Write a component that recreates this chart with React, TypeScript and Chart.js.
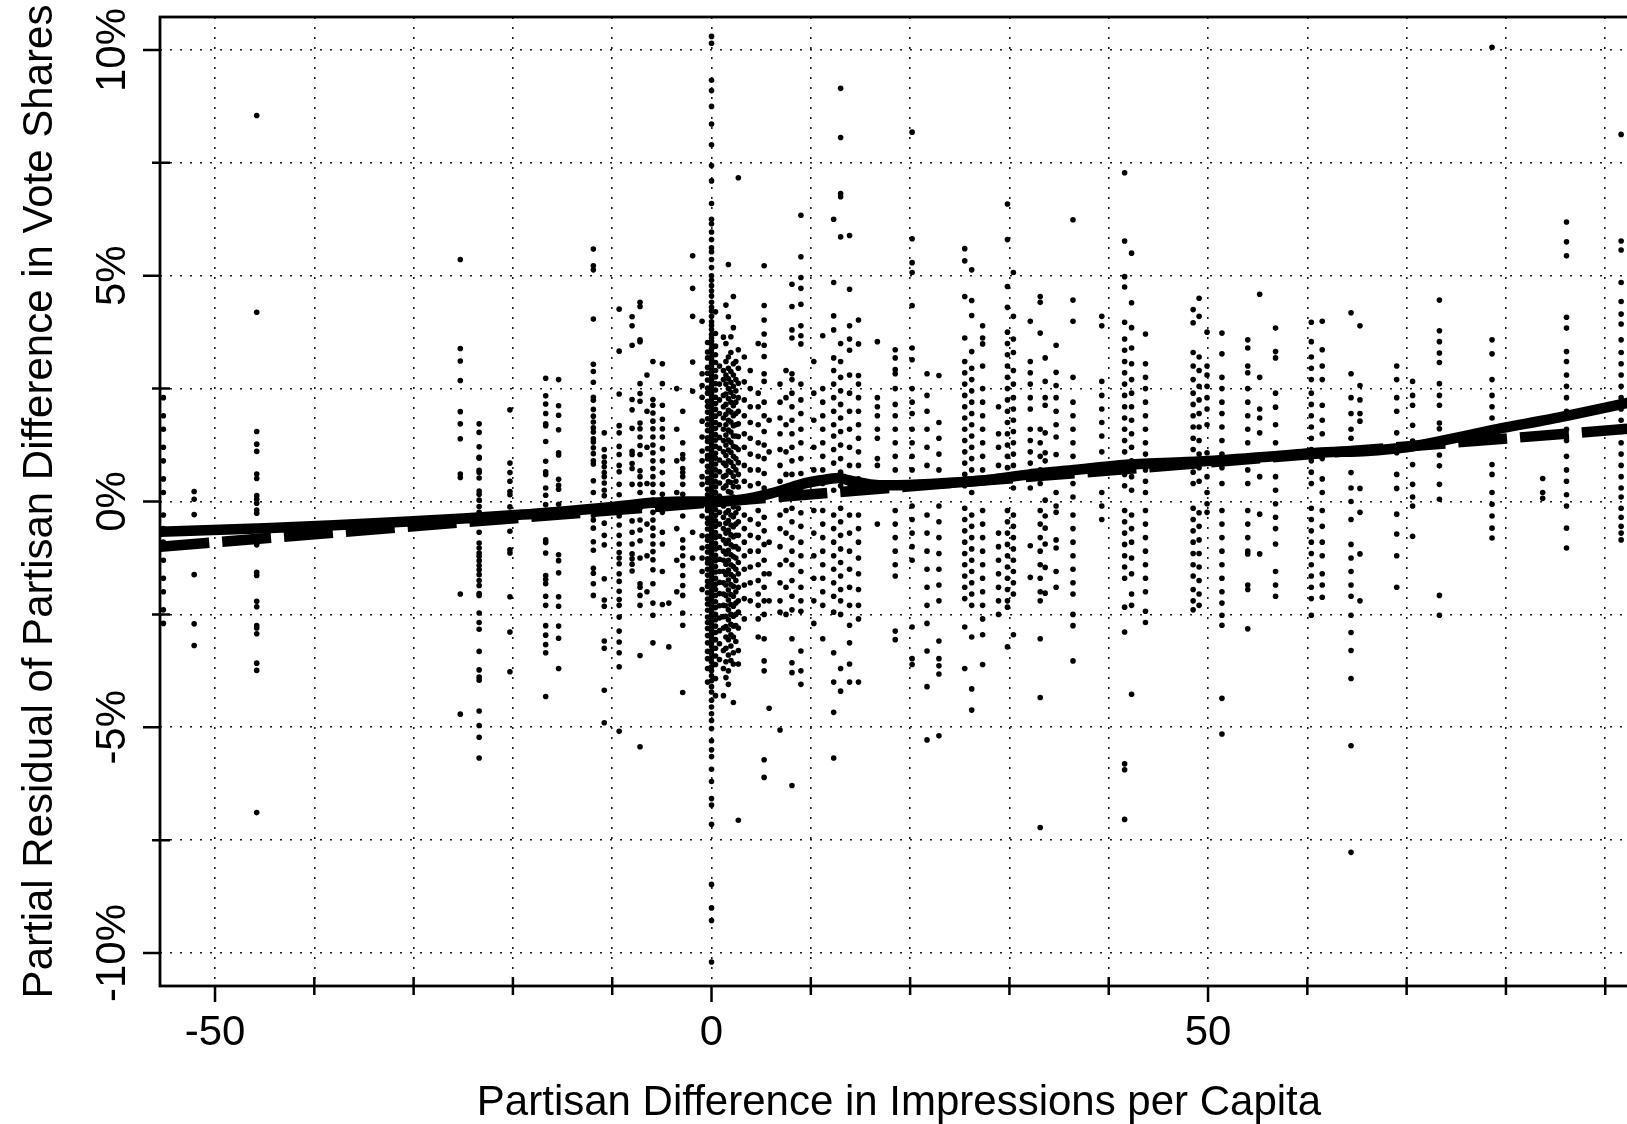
import { useEffect, useRef } from "react";
import { Chart, registerables } from "chart.js";

Chart.register(...registerables);

const FONT = '"Liberation Sans", Arial, Helvetica, sans-serif';

// ---------- axis ticks ----------
const xMajorTicks = [-50, 0, 50];
const xTickLabels = ["-50", "0", "50"];
const xMinorTicks = [-40, -30, -20, -10, 10, 20, 30, 40, 60, 70, 80, 90];
const xGridValues = [-50, -40, -30, -20, -10, 0, 10, 20, 30, 40, 50, 60, 70, 80, 90];
const yMajorTicks = [-10, -5, 0, 5, 10];
const yTickLabels = ["-10%", "-5%", "0%", "5%", "10%"];
const yMinorTicks = [-7.5, -2.5, 2.5, 7.5];
const yGridValues = [-10, -7.5, -5, -2.5, 0, 2.5, 5, 7.5, 10];

const xTitle = "Partisan Difference in Impressions per Capita";
const yTitle = "Partial Residual of Partisan Difference in Vote Shares";

// ---------- fitted lines ----------
const loessX = [-55.5, -45, -31, -19, -10, -6, -3, 0, 3, 6, 9, 11, 12.8, 14, 16, 18, 22, 27, 32, 37, 42, 49.5, 56, 61, 66, 70, 73, 78.6, 86, 95];
const loessY = [-0.67, -0.59, -0.45, -0.29, -0.12, -0.03, 0.0, 0.0, 0.04, 0.18, 0.38, 0.47, 0.52, 0.46, 0.38, 0.36, 0.39, 0.46, 0.6, 0.71, 0.82, 0.89, 0.99, 1.08, 1.12, 1.2, 1.32, 1.58, 1.89, 2.32];
const linearX = [-55.5, 95];
const linearY = [-1.0, 1.66];

// ---------- scatter: partisan difference (x) per column and residuals (%) ----------
const columnX = [
  -55.2, -52.1, -45.8, -25.3, -23.4, -20.3, -16.7, -15.4, -11.9, -10.8,
  -9.3, -8.0, -7.2, -5.9, -4.95, -4.3, -2.9, -1.9, -0.95, -0.4,
  0, 0.4, 1.2, 1.7, 2.2, 2.7, 3.3, 4.7, 5.3, 5.8,
  6.9, 8.1, 9.0, 11.2, 12.3, 13.0, 13.9, 14.8, 16.7, 18.5,
  20.2, 21.7, 22.9, 25.5, 26.2, 27.3, 28.9, 29.8, 30.4, 32.1,
  33.1, 33.6, 34.7, 36.4, 39.3, 41.6, 42.3, 43.7, 48.5, 49.1,
  49.9, 51.4, 54.0, 55.2, 56.8, 60.4, 61.5, 64.4, 65.3, 69.0,
  70.6, 73.3, 78.6, 83.7, 86.1, 91.6,
  0.8, 1.45, 1.95, 2.45, 3.9, 10.3, 7.5, -3.5, -6.5,
];
const columnY: number[][] = [
  [2.3, 1.9, 1.6, 1.2, 0.9, 0.5, 0.2, -0.3, -0.6, -0.9, -1.3, -1.7, -2.0, -2.4, -2.7],
  [0.22, 0.05, -0.29, -1.62, -2.71, -3.19],
  [8.55, 4.19, 1.55, 1.27, 1.11, 0.61, 0.51, 0.13, 0.05, -0.04, -0.19, -0.26, -0.96, -1.57, -1.64, -2.21, -2.33, -2.75, -2.8, -2.93, -3.58, -3.74, -6.89],
  [5.36, 3.39, 3.11, 2.68, 1.99, 1.72, 1.39, 0.61, 0.53, -2.05, -4.71],
  [1.72, 1.53, 1.21, 0.98, 0.96, 0.69, 0.64, 0.52, 0.23, 0.16, 0.03, -0.11, -0.24, -0.48, -0.68, -0.92, -1.03, -1.14, -1.21, -1.31, -1.42, -1.51, -1.62, -1.75, -1.86, -2.04, -2.08, -2.47, -2.68, -2.83, -3.32, -3.73, -3.89, -3.96, -4.64, -4.96, -5.22, -5.68],
  [2.03, 0.85, 0.64, 0.45, 0.22, 0.15, -0.12, -0.66, -1.07, -1.14, -2.11, -2.89, -3.77],
  [2.73, 2.34, 2.16, 1.95, 1.72, 1.68, 1.33, 0.89, 0.66, 0.6, 0.3, 0.14, -0.07, -0.85, -0.91, -1.14, -1.64, -1.73, -1.82, -2.1, -2.3, -2.75, -2.96, -3.17, -3.35, -4.32],
  [2.7, 2.12, 1.91, 1.59, 1.08, 1.03, 0.49, 0.36, 0.27, -0.06, -1.18, -1.31, -1.58, -2.11, -2.32, -2.76, -3.03, -3.7],
  [5.59, 5.22, 5.13, 4.04, 3.04, 2.88, 2.64, 2.31, 2.24, 2.04, 1.89, 1.76, 1.63, 1.54, 1.39, 1.32, 1.19, 1.06, 0.9, 0.83, 0.46, 0.2, -0.31, -0.41, -0.59, -0.89, -1.08, -1.48, -1.59, -1.82, -2.08],
  [1.52, 1.15, 0.99, 0.87, 0.77, 0.64, 0.55, 0.41, 0.25, 0.13, -0.17, -0.48, -0.75, -0.96, -1.71, -2.18, -2.32, -3.09, -3.25, -4.18, -4.9],
  [4.26, 3.33, 2.38, 1.68, 1.52, 1.22, 1.04, 0.8, 0.66, 0.38, 0.15, -0.19, -0.32, -0.52, -0.75, -0.94, -1.13, -1.25, -1.38, -1.6, -1.77, -1.99, -2.17, -2.3, -2.56, -2.87, -3.11, -3.35, -3.66, -5.09],
  [4.09, 3.89, 3.46, 2.26, 2.03, 1.62, 1.11, 1.04, 0.84, 0.73, 0.38, -0.06, -0.43, -0.68, -0.94, -1.16, -1.27, -1.39, -1.54],
  [4.41, 4.32, 3.58, 3.54, 2.61, 2.39, 2.22, 1.74, 1.61, 1.43, 1.24, 1.04, 0.68, 0.55, 0.38, 0.2, -0.15, -0.41, -0.63, -0.87, -1.25, -1.82, -1.9, -2.08, -2.3, -3.41, -5.43],
  [3.1, 2.26, 2.13, 1.96, 1.78, 1.61, 1.43, 1.25, 1.08, 0.9, 0.73, 0.55, 0.38, 0.2, 0.03, -0.24, -0.41, -0.59, -0.76, -0.94, -1.11, -1.29, -1.51, -1.82, -2.25, -2.52, -3.13],
  [3.05, 2.61, 2.13, 1.82, 1.61, 1.43, 1.17, 0.9, 0.64, 0.38, 0.16, -0.24, -0.68, -0.94, -1.55, -2.28],
  [-2.25, -3.22],
  [2.0, 1.3, 1.04, 0.95, 0.73, 0.64, 0.55, 0.38, 0.16, -0.32, -0.85, -1.03, -1.2, -1.42, -1.64, -1.86, -2.08, -2.47, -2.74, -4.23],
  [5.44, 4.72, 4.1, 3.09, 2.44, -0.68, -1.25],
  [3.99, 2.83, 2.57, 2.31, 1.78, 1.43, 1.12, 0.9, 0.55, 0.38, -0.32, -0.76, -1.03, -1.25, -1.55, -1.95],
  [3.52, 3.31, 3.18, 2.97, 2.84, 2.69, 2.51, 2.4, 2.22, 2.11, 1.98, 1.83, 1.7, 1.57, 1.41, 1.33, 1.17, 1.02, 0.94, 0.78, 0.66, 0.51, 0.42, 0.27, 0.15, 0.03, -0.12, -0.2, -0.37, -0.48, -0.61, -0.77, -0.86, -1.0, -1.12, -1.27, -1.36, -1.5, -1.63, -1.77, -1.88, -2.02, -2.16, -2.27, -2.41, -2.56, -2.68, -2.81, -2.97, -3.13, -3.32, -3.48, -3.7, -4.0],
  [10.3, 10.15, 9.33, 9.1, 8.75, 8.36, 7.9, 7.44, 7.1, 6.6, 6.25, 6.15, 5.97, 5.8, 5.62, 5.53, 5.36, 5.18, 5.0, 4.9, 4.78, 4.66, 4.55, 4.41, 4.3, 4.22, 4.1, 3.98, 3.9, 3.81, 3.7, 3.62, 3.55, 3.47, 3.38, 3.3, 3.21, 3.15, 3.07, 2.99, 2.93, 2.86, 2.79, 2.71, 2.66, 2.58, 2.52, 2.45, 2.38, 2.33, 2.26, 2.2, 2.13, 2.08, 2.01, 1.95, 1.9, 1.84, 1.77, 1.72, 1.66, 1.6, 1.55, 1.49, 1.43, 1.38, 1.31, 1.26, 1.2, 1.14, 1.09, 1.03, 0.97, 0.92, 0.86, 0.8, 0.75, 0.69, 0.63, 0.58, 0.52, 0.46, 0.41, 0.35, 0.29, 0.24, 0.18, 0.12, 0.07, 0.01, -0.05, -0.11, -0.16, -0.22, -0.28, -0.33, -0.39, -0.45, -0.5, -0.56, -0.62, -0.67, -0.73, -0.79, -0.84, -0.9, -0.96, -1.01, -1.07, -1.13, -1.18, -1.24, -1.3, -1.35, -1.41, -1.47, -1.52, -1.58, -1.64, -1.69, -1.75, -1.81, -1.86, -1.92, -1.98, -2.03, -2.09, -2.15, -2.2, -2.26, -2.32, -2.37, -2.43, -2.49, -2.55, -2.6, -2.66, -2.72, -2.78, -2.83, -2.9, -2.97, -3.05, -3.12, -3.2, -3.3, -3.38, -3.47, -3.55, -3.66, -3.75, -3.86, -3.97, -4.1, -4.22, -4.4, -4.55, -4.7, -4.85, -5.03, -5.3, -5.5, -5.65, -5.93, -6.2, -6.58, -6.72, -7.15, -8.48, -9.0, -9.28, -10.2],
  [4.2, 3.72, 3.44, 3.25, 3.08, 2.9, 2.76, 2.61, 2.47, 2.31, 2.17, 2.04, 1.89, 1.75, 1.62, 1.48, 1.36, 1.22, 1.07, 0.96, 0.83, 0.7, 0.57, 0.44, 0.32, 0.2, 0.08, -0.06, -0.18, -0.31, -0.43, -0.55, -0.69, -0.8, -0.93, -1.05, -1.19, -1.31, -1.44, -1.56, -1.7, -1.83, -1.95, -2.08, -2.22, -2.35, -2.5, -2.62, -2.76, -2.9, -3.06, -3.25, -3.42, -3.61, -3.92, -4.3],
  [3.64, 2.9, 2.7, 2.35, 2.1, 1.85, 1.6, 1.35, 1.1, 0.85, 0.55, 0.3, -0.1, -0.35, -0.6, -0.85, -1.1, -1.3, -1.55, -1.8, -2.05, -2.3, -2.55, -2.8, -3.3, -3.7, -4.3],
  [5.25, 4.09, 3.2, 2.95, 2.72, 2.5, 2.28, 2.02, 1.8, 1.58, 1.36, 1.14, 0.9, 0.68, 0.44, 0.22, -0.2, -0.42, -0.64, -0.86, -1.08, -1.3, -1.52, -1.74, -1.96, -2.18, -2.4, -2.62, -2.84, -3.06, -3.4, -3.75, -4.05],
  [4.54, 3.85, 3.05, 2.8, 2.55, 2.33, 2.12, 1.9, 1.68, 1.45, 1.22, 1.0, 0.78, 0.56, 0.33, 0.1, -0.12, -0.34, -0.56, -0.78, -1.0, -1.22, -1.44, -1.66, -1.88, -2.1, -2.32, -2.54, -2.76, -3.0, -3.35, -3.6, -4.45],
  [7.17, 3.36, 2.95, 2.62, 2.3, 2.0, 1.72, 1.44, 1.15, 0.86, 0.6, 0.32, -0.15, -0.45, -0.75, -1.05, -1.35, -1.6, -1.9, -2.2, -2.45, -2.8, -3.3, -3.6, -7.06],
  [3.2, 2.65, 2.25, 1.9, 1.5, 1.2, 0.8, 0.45, -0.3, -0.6, -0.9, -1.2, -1.5, -1.85, -2.15, -2.6],
  [3.5, 2.4, 2.1, 1.7, 1.3, 1.0, 0.7, 0.4, -0.2, -0.5, -0.8, -1.1, -1.4, -1.75, -2.05, -2.3, -2.6, -3.0],
  [5.22, 4.34, 4.02, 3.71, 3.46, 3.21, 2.83, 2.66, 2.2, 1.9, 1.55, 1.25, 0.95, 0.62, 0.3, -0.35, -0.65, -0.95, -1.3, -1.6, -1.9, -2.2, -2.5, -3.04, -3.53, -3.75, -5.72, -6.11],
  [1.8, 1.1, 0.2, -0.9, -1.6, -2.2, -4.58],
  [2.6, 2.2, 1.85, 1.5, 1.15, 0.8, 0.45, -0.3, -0.6, -1.0, -1.4, -1.8, -2.2, -2.45, -5.06],
  [4.81, 4.32, 3.8, 3.62, 2.83, 2.7, 2.4, 2.1, 1.8, 1.5, 1.2, 0.9, 0.6, 0.3, -0.15, -0.45, -0.8, -1.1, -1.4, -1.75, -2.1, -2.4, -3.04, -3.57, -3.79, -6.29],
  [6.34, 5.42, 4.96, 4.72, 4.37, 3.89, 3.67, 3.49, 2.6, 2.25, 1.95, 1.6, 1.3, 0.95, 0.62, 0.3, -0.25, -0.55, -0.9, -1.2, -1.55, -1.9, -2.2, -2.43, -3.31, -3.75, -4.05],
  [3.67, 2.5, 2.2, 1.9, 1.6, 1.3, 1.0, 0.7, 0.4, -0.2, -0.5, -0.8, -1.1, -1.4, -1.7, -2.0, -2.3, -3.04],
  [6.25, 4.85, 4.11, 3.8, 3.18, 2.9, 2.6, 2.3, 2.0, 1.7, 1.45, 1.15, 0.85, 0.55, 0.25, -0.3, -0.6, -0.9, -1.2, -1.5, -1.8, -2.1, -2.45, -3.35, -4.0, -4.67, -5.68],
  [9.15, 8.06, 6.82, 6.75, 5.86, 3.5, 3.1, 2.75, 2.45, 2.15, 1.85, 1.55, 1.25, 0.95, 0.65, 0.35, -0.15, -0.45, -0.75, -1.05, -1.35, -1.65, -1.95, -2.2, -2.5, -3.7, -4.2],
  [5.89, 4.7, 3.89, 3.6, 3.35, 2.8, 2.4, 2.0, 1.6, 1.2, 0.8, 0.4, -0.3, -0.7, -1.1, -1.5, -1.9, -2.3, -2.74, -3.13, -3.6, -4.0],
  [4.02, 3.49, 2.79, 2.6, 2.3, 2.0, 1.7, 1.4, 1.1, 0.8, 0.5, -0.3, -0.6, -0.9, -1.25, -1.6, -1.95, -2.3, -2.6, -4.0],
  [3.54, 2.3, 2.1, 1.9, 1.6, 1.4, 0.95, 0.8, -0.5],
  [3.36, 3.18, 2.92, 2.83, 2.5, 2.15, 1.9, 1.6, 1.3, 1.0, 0.7, 0.4, -0.2, -0.5, -0.8, -1.1, -1.4, -1.65, -2.87, -3.06],
  [8.18, 5.82, 5.29, 5.07, 4.34, 3.4, 3.14, 2.5, 2.2, 1.95, 1.6, 1.3, 1.0, 0.7, -0.1, -0.4, -0.7, -1.0, -1.3, -2.78, -3.48, -3.61],
  [2.83, 2.35, 2.0, 1.6, 1.2, 0.8, 0.4, -0.3, -0.7, -1.1, -1.5, -1.9, -2.3, -2.7, -3.31, -4.1, -5.28],
  [2.79, 1.75, 1.4, 1.05, 0.7, 0.35, -0.1, -0.45, -0.8, -1.15, -1.5, -1.85, -2.2, -3.09, -3.48, -3.64, -3.82, -5.19],
  [5.6, 5.33, 4.54, 3.62, 3.1, 2.85, 2.6, 2.35, 2.1, 1.85, 1.6, 1.35, 1.1, 0.85, 0.6, 0.35, -0.15, -0.4, -0.65, -0.9, -1.15, -1.4, -1.65, -1.9, -2.15, -2.78, -3.7],
  [5.13, 4.45, 4.12, 3.32, 2.95, 2.7, 2.45, 2.2, 1.95, 1.7, 1.45, 1.2, 0.95, 0.7, 0.45, 0.2, -0.3, -0.55, -0.8, -1.05, -1.3, -1.55, -1.8, -2.05, -2.3, -3.0, -4.15, -4.62],
  [3.89, 3.62, 3.49, 3.0, 2.5, 2.2, 1.9, 1.6, 1.3, 1.0, 0.7, -0.2, -0.5, -0.8, -1.1, -1.4, -1.7, -2.0, -2.3, -2.6, -2.95, -3.61],
  [2.1, 1.5, 1.2, 0.8, -0.7, -1.0, -1.3, -1.6, -1.9, -2.2, -2.5],
  [6.59, 5.8, 4.76, 4.3, 3.75, 3.5, 3.25, 3.0, 2.75, 2.5, 2.25, 2.0, 1.75, 1.5, 1.25, 1.0, 0.75, 0.5, -0.2, -0.45, -0.7, -0.95, -1.2, -1.45, -1.7, -1.95, -2.2, -2.34, -3.22],
  [5.07, 4.1, 3.6, 3.3, 2.9, 2.6, 2.3, 2.05, 1.8, 1.55, 1.3, 1.05, 0.8, 0.55, 0.3, -0.3, -0.55, -0.8, -1.05, -1.3, -1.55, -1.8, -2.05, -2.95],
  [3.99, 3.1, 2.85, 2.6, 2.3, 2.05, 1.6, 1.35, 1.1, 0.85, 0.6, 0.3, -0.98, -1.68],
  [4.54, 4.41, 3.73, 1.6, 1.3, 1.0, 0.7, 0.4, -0.2, -0.5, -0.8, -1.1, -1.4, -1.7, -2.0, -2.2, -3.04, -4.34, -7.22],
  [3.18, 2.66, 2.3, 2.13, 1.52, 1.08, 0.9, 0.55, 0.03, -0.32, -0.59, -0.94, -1.46, -2.03],
  [3.46, 2.86, 2.57, 2.3, 2.0, 1.7, 1.43, 1.04, 0.64, 0.2, -0.1, -0.24, -0.85, -1.03, -1.55, -1.9],
  [6.24, 4.46, 3.99, 2.75, 2.2, 1.9, 1.6, 1.3, 1.0, 0.7, 0.4, 0.1, -0.3, -0.6, -0.9, -1.2, -1.5, -1.8, -2.05, -2.5, -2.75, -3.53],
  [4.1, 3.89, 2.66, 2.35, 2.05, 1.75, 1.45, 1.1, 0.2, -0.1, -0.4],
  [7.28, 5.77, 4.98, 4.75, 3.97, 3.6, 3.35, 3.1, 2.85, 2.6, 2.35, 2.1, 1.85, 1.6, 1.35, 1.1, 0.85, 0.6, 0.35, -0.2, -0.45, -0.7, -0.95, -1.2, -1.45, -1.7, -2.34, -2.89, -5.81, -5.94, -7.04],
  [5.5, 4.4, 3.85, 3.4, 3.05, 2.7, 2.4, 2.1, 1.8, 1.5, 1.2, 0.9, 0.55, 0.25, -0.3, -0.6, -0.9, -1.25, -1.6, -2.05, -2.3, -4.27],
  [3.71, 3.05, 2.75, 2.5, 2.2, 1.9, 1.6, 1.3, 1.05, 0.7, 0.45, 0.2, -0.2, -0.5, -0.8, -1.1, -1.4, -1.7, -2.0, -2.43, -2.68],
  [4.25, 3.96, 3.3, 3.0, 2.7, 2.4, 2.15, 1.9, 1.65, 1.4, 1.15, 0.9, 0.65, 0.4, -0.15, -0.4, -0.65, -0.9, -1.15, -1.4, -1.65, -1.95, -2.2, -2.4],
  [4.5, 4.1, 3.2, 2.9, 2.55, 2.25, 1.95, 1.65, 1.35, 1.05, 0.75, 0.45, -0.25, -0.55, -0.85, -1.15, -1.45, -1.75, -2.05, -2.3],
  [3.75, 3.0, 2.8, 2.55, 2.3, 2.05, 1.7, 1.08, 0.55, 0.2, -0.05, -0.24],
  [3.73, 3.27, 2.75, 2.5, 2.2, 1.95, 1.65, 1.35, 1.05, 0.75, 0.4, -0.2, -0.5, -0.8, -1.1, -1.4, -1.7, -2.0, -2.25, -2.52, -2.74, -4.36, -5.15],
  [3.58, 3.4, 3.0, 2.85, 2.5, 2.2, 1.9, 1.6, 1.3, 1.0, 0.7, 0.4, -0.2, -0.5, -0.8, -1.1, -1.16, -1.85, -1.95, -2.82],
  [4.59, 2.75, 2.05, 1.85, 1.52, 0.55, -0.28, -1.16],
  [3.84, 3.32, 3.18, 2.4, 2.09, 1.7, 1.3, 0.55, 0.25, -0.05, -0.35, -0.6, -0.94, -1.55, -1.85, -2.1],
  [3.97, 3.54, 3.2, 2.95, 2.7, 2.4, 2.15, 1.9, 1.65, 1.4, 1.15, 0.9, 0.65, 0.4, -0.15, -0.4, -0.65, -0.9, -1.15, -1.4, -1.65, -1.9, -2.15, -2.52],
  [3.99, 3.36, 3.0, 2.7, 2.13, 1.8, 1.5, 0.95, 0.5, 0.2, -0.2, -0.55, -0.9, -1.2, -1.6, -1.85, -2.12],
  [4.18, 2.83, 2.3, 1.95, 1.6, 1.4, 0.64, 0.3, 0.0, -0.4, -0.95, -1.25, -1.55, -1.85, -2.1, -2.52, -2.9, -3.3, -3.92, -5.41, -7.77],
  [3.89, 2.57, 2.25, 1.95, 1.78, 0.29, -0.24, -1.16, -2.2],
  [3.0, 2.7, 2.3, 2.0, 1.52, 1.08, 0.6, 0.29, -0.28, -0.72, -1.2, -1.9],
  [2.66, 2.35, 2.13, 1.69, 1.34, 0.82, 0.38, 0.1, -0.1, -0.77],
  [4.46, 3.78, 3.54, 3.29, 3.08, 2.61, 2.35, 2.13, 1.74, 1.61, 1.34, 1.03, 0.79, 0.38, 0.05, -2.08, -2.52],
  [10.06, 3.58, 3.27, 2.7, 2.35, 2.1, 1.85, 1.58, 1.43, 0.82, 0.6, 0.2, -0.06, -0.32, -0.59, -0.81],
  [0.51, 0.2, 0.07],
  [6.19, 5.75, 5.44, 4.08, 3.84, 3.32, 3.1, 2.8, 2.55, 2.3, 2.0, 1.6, 1.35, 1.0, 0.7, 0.45, 0.15, -0.1, -0.59, -1.03],
  [8.13, 5.77, 5.57, 4.85, 4.43, 4.15, 3.93, 3.58, 3.3, 3.05, 2.8, 2.55, 2.3, 2.05, 1.8, 1.55, 1.3, 1.05, 0.8, 0.55, 0.3, 0.1, -0.15, -0.35, -0.55, -0.7, -0.85],
  [3.0, 2.6, 2.25, 1.95, 1.7, 1.42, 1.18, 0.92, 0.66, 0.41, 0.12, -0.24, -0.5, -0.77, -1.02, -1.28, -1.55, -1.79, -2.04, -2.31, -2.58, -2.86, -3.15, -3.5],
  [4.35, 3.5, 3.1, 2.8, 2.6, 2.38, 2.15, 1.93, 1.7, 1.47, 1.25, 1.02, 0.8, 0.58, 0.35, -0.25, -0.48, -0.7, -0.93, -1.16, -1.39, -1.62, -1.85, -2.08, -2.31, -2.54, -2.77, -3.0, -3.25, -3.55, -3.9],
  [3.65, 3.3, 2.88, 2.64, 2.42, 2.2, 1.98, 1.76, 1.54, 1.31, 1.09, 0.87, 0.64, 0.42, 0.2, -0.3, -0.52, -0.74, -0.96, -1.18, -1.4, -1.62, -1.84, -2.06, -2.28, -2.5, -2.72, -2.95, -3.2, -3.52],
  [3.1, 2.7, 2.45, 2.2, 1.95, 1.7, 1.45, 1.2, 0.95, 0.7, 0.45, -0.25, -0.5, -0.75, -1.0, -1.25, -1.5, -1.75, -2.0, -2.25, -2.5, -2.75, -3.1],
  [2.9, 2.5, 2.1, 1.75, 1.4, 1.05, 0.7, 0.35, -0.4, -0.75, -1.1, -1.45, -1.8, -2.2],
  [3.1, 2.4, 1.8, 1.2, 0.7, -0.2, -0.7, -1.2, -1.7, -2.2, -2.7],
  [2.9, 2.3, 1.7, 1.1, 0.6, -0.2, -0.7, -1.3, -1.9, -2.5],
  [2.5, 1.6, 0.9, 0.2, -0.6, -1.3, -2.0],
  [2.8, 2.0, 1.2, 0.4, -0.5, -1.2, -2.0],
];

const X_MIN = -55.54;
const X_MAX = 93.5;
const Y_MIN = -10.73;
const Y_MAX = 10.73;

const rAxesPlugin = {
  id: "rAxes",
  afterDraw(chart: any) {
    const { ctx, chartArea: a, scales } = chart;
    const xs = scales.x;
    const ys = scales.y;
    ctx.save();
    ctx.strokeStyle = "#000";
    ctx.fillStyle = "#000";
    // frame
    ctx.lineWidth = 2.8;
    ctx.strokeRect(a.left, a.top, a.right - a.left, a.bottom - a.top);
    // ticks
    ctx.lineWidth = 2.5;
    ctx.beginPath();
    xMajorTicks.forEach((v) => {
      const p = xs.getPixelForValue(v);
      ctx.moveTo(p, a.bottom);
      ctx.lineTo(p, a.bottom + 16);
    });
    xMinorTicks.forEach((v) => {
      const p = xs.getPixelForValue(v);
      ctx.moveTo(p, a.bottom - 9);
      ctx.lineTo(p, a.bottom + 9);
    });
    yMajorTicks.forEach((v) => {
      const p = ys.getPixelForValue(v);
      ctx.moveTo(a.left, p);
      ctx.lineTo(a.left - 17, p);
    });
    yMinorTicks.forEach((v) => {
      const p = ys.getPixelForValue(v);
      ctx.moveTo(a.left - 8, p);
      ctx.lineTo(a.left + 10, p);
    });
    ctx.stroke();
    // labels
    ctx.font = `42px ${FONT}`;
    ctx.textAlign = "center";
    ctx.textBaseline = "alphabetic";
    xMajorTicks.forEach((v, i) => {
      ctx.fillText(xTickLabels[i], xs.getPixelForValue(v), a.bottom + 59);
    });
    yMajorTicks.forEach((v, i) => {
      ctx.save();
      ctx.translate(a.left - 35, ys.getPixelForValue(v));
      ctx.rotate(-Math.PI / 2);
      ctx.fillText(yTickLabels[i], 0, 0);
      ctx.restore();
    });
    // titles
    ctx.fillText(xTitle, 899, a.bottom + 129);
    ctx.save();
    ctx.translate(52, (a.top + a.bottom) / 2);
    ctx.rotate(-Math.PI / 2);
    ctx.fillText(yTitle, 0, 0);
    ctx.restore();
    ctx.restore();
  },
};

export default function App() {
  const ref = useRef<HTMLCanvasElement>(null);
  useEffect(() => {
    const canvas = ref.current;
    if (!canvas) return;
    const points: { x: number; y: number }[] = [];
    columnX.forEach((x, i) => {
      columnY[i].forEach((y) => points.push({ x, y }));
    });
    const chart = new Chart(canvas, {
      type: "scatter",
      data: {
        datasets: [
          {
            data: points,
            pointRadius: 2.8,
            pointBackgroundColor: "#000",
            pointBorderWidth: 0,
            order: 3,
          },
          {
            data: linearX.map((x, i) => ({ x, y: linearY[i] })),
            showLine: true,
            pointRadius: 0,
            borderColor: "#000",
            borderWidth: 10.5,
            borderDash: [49, 13],
            borderCapStyle: "butt",
            order: 2,
          },
          {
            data: loessX.map((x, i) => ({ x, y: loessY[i] })),
            showLine: true,
            pointRadius: 0,
            borderColor: "#000",
            borderWidth: 10.5,
            tension: 0.25,
            order: 1,
          },
        ],
      } as any,
      options: {
        animation: false,
        responsive: false,
        maintainAspectRatio: false,
        devicePixelRatio: 1,
        events: [],
        layout: { autoPadding: false, padding: { left: 160, right: 60, top: 17, bottom: 138 } },
        plugins: { legend: { display: false }, tooltip: { enabled: false } },
        scales: {
          x: {
            type: "linear",
            min: X_MIN,
            max: X_MAX,
            afterBuildTicks: (s: any) => {
              s.ticks = xGridValues.map((value) => ({ value }));
            },
            ticks: { display: false },
            grid: { color: "#1a1a1a", lineWidth: 1.6, drawTicks: false },
            border: { display: false, dash: [2, 8] },
          },
          y: {
            type: "linear",
            min: Y_MIN,
            max: Y_MAX,
            afterBuildTicks: (s: any) => {
              s.ticks = yGridValues.map((value) => ({ value }));
            },
            ticks: { display: false },
            grid: { color: "#1a1a1a", lineWidth: 1.6, drawTicks: false },
            border: { display: false, dash: [2, 8] },
          },
        },
      } as any,
      plugins: [rAxesPlugin],
    });
    return () => chart.destroy();
  }, []);
  return (
    <div
      style={{
        position: "fixed",
        left: 0,
        top: 0,
        width: 1627,
        height: 1124,
        overflow: "hidden",
        background: "#fff",
      }}
    >
      <canvas ref={ref} width={1700} height={1124} style={{ display: "block", width: 1700, height: 1124 }} />
    </div>
  );
}
